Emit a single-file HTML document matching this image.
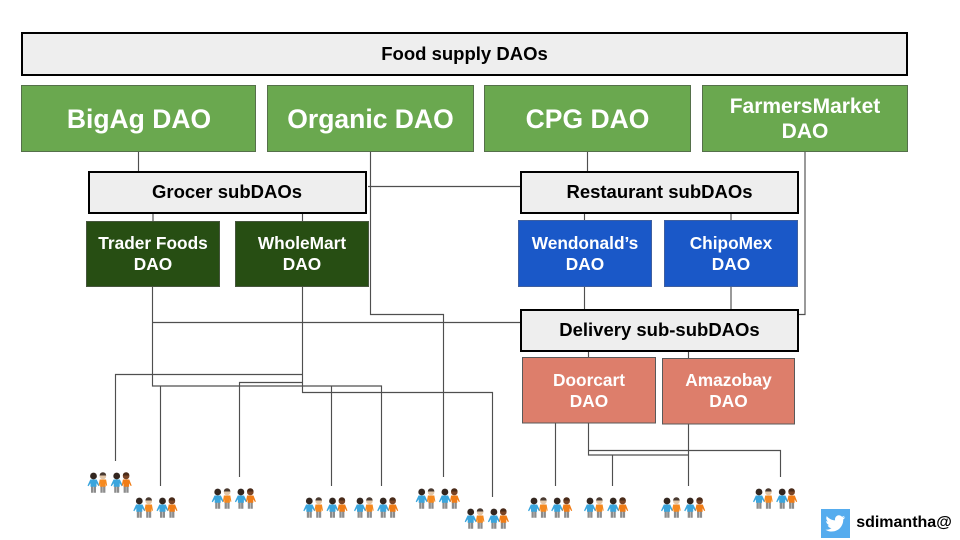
<!DOCTYPE html>
<html><head><meta charset="utf-8"><style>
html,body{margin:0;padding:0;background:#fff}
svg{display:block}
text{font-family:"Liberation Sans",sans-serif;font-weight:bold;text-anchor:middle}
.l{fill:none;stroke:#4f4f4f;stroke-width:1.15}
.g{fill:#6aa84f;stroke:#55704a;stroke-width:1}
.k{fill:#eeeeee;stroke:#000;stroke-width:2}
.d{fill:#274e13;stroke:#46553d;stroke-width:1}
.b{fill:#1a58c8;stroke:#3f5f9f;stroke-width:1}
.r{fill:#dd7e6b;stroke:#595959;stroke-width:1}
</style></head><body>
<svg width="960" height="540" viewBox="0 0 960 540" xmlns="http://www.w3.org/2000/svg">
<defs>
<g id="p">
<path d="M-2.500 9.500h2.300v7.300h-2.300zM.2 9.500h2.300v7.300h-2.300z" fill="#8c8c8c"/>
</g>
<g id="f">
<use href="#p"/>
<path d="M-3.200 3.500h6.400l2.800 6.100-1 .6-2-3v3.600h-6v-3.600l-2 3-1-.6z" fill="#3aa5dd"/>
<circle cx="0" cy="0" r="3.400" fill="#33261f"/>
</g>
<g id="o1">
<use href="#p"/>
<path d="M-3.200 3.500h6.400l1.100 6.100-1 .2-.5-2.600v3.600h-5.600v-3.600l-.5 2.600-1-.2z" fill="#f5891f"/>
<circle cx="0" cy="0" r="3.300" fill="#e2c6a8"/>
<path d="M-3.300-.5a3.300 3.300 0 0 1 6.600 0z" fill="#4a3a30"/>
</g>
<g id="o2">
<use href="#p"/>
<path d="M-3.200 3.500h6.400l2.400 6.100-1 .4-1.600-2.800v3.600h-5.600v-3.600l-.8 2.600-1-.2z" fill="#f07c16"/>
<circle cx="0" cy="0" r="3.300" fill="#7b4526"/>
<path d="M-3.300-.5a3.300 3.300 0 0 1 6.600 0z" fill="#4a2a18"/>
</g>
<g id="pp">
<use href="#f" x="0" y="0"/>
<use href="#o1" x="9.400" y="0"/>
<use href="#f" x="23.200" y="0"/>
<use href="#o2" x="32.600" y="0"/>
</g>
</defs>

<path class="l" d="M138.500 152V171M587.500 152V171M368 186.500H520M153 214V221M302.500 214V221M584.500 214V221M731 214V221M805 152V314.500H799M584.500 287V309M731 287V309M588.500 352V357M688.500 352V358"/>
<path class="l" d="M152.500 287V386H381.500V486M152.500 322.500H520M302.500 287V392.500H492.500V497M302.500 374.500H115.500V461M302.500 382.500H239.500V477M160.500 386V486M331.500 386V486M370.500 152V314.500H443.500V477"/>
<path class="l" d="M555.500 423V486M588.500 423V455H688.500M588.500 450.500H780.500V477M688.500 424V486M612.500 455V486"/>

<rect class="k" x="22" y="33" width="885" height="42"/>
<text x="464.500" y="60" font-size="18.500">Food supply DAOs</text>

<rect class="g" x="21.500" y="85.500" width="234" height="66"/>
<rect class="g" x="267.500" y="85.500" width="206" height="66"/>
<rect class="g" x="484.500" y="85.500" width="206" height="66"/>
<rect class="g" x="702.500" y="85.500" width="205" height="66"/>
<text x="139" y="128" font-size="26.500" fill="#fff">BigAg DAO</text>
<text x="370.500" y="128" font-size="26.500" fill="#fff">Organic DAO</text>
<text x="587.500" y="128" font-size="26.500" fill="#fff">CPG DAO</text>
<text x="805" y="113" font-size="21" fill="#fff">FarmersMarket</text>
<text x="805" y="138" font-size="21" fill="#fff">DAO</text>

<rect class="k" x="89" y="172" width="277" height="41"/>
<text x="227" y="198" font-size="18.500" textLength="150" lengthAdjust="spacingAndGlyphs">Grocer subDAOs</text>
<rect class="k" x="521" y="172" width="277" height="41"/>
<text x="659.500" y="198" font-size="18.500">Restaurant subDAOs</text>
<rect class="k" x="521" y="310" width="277" height="41"/>
<text x="659.500" y="336" font-size="18.500">Delivery sub-subDAOs</text>

<rect class="d" x="86.500" y="221.500" width="133" height="65"/>
<rect class="d" x="235.500" y="221.500" width="133" height="65"/>
<rect class="b" x="518.500" y="220.500" width="133" height="66"/>
<rect class="b" x="664.500" y="220.500" width="133" height="66"/>
<rect class="r" x="522.500" y="357.500" width="133" height="65.500"/>
<rect class="r" x="662.500" y="358.500" width="132" height="65.500"/>

<text x="153" y="249" font-size="17.300" fill="#fff">Trader Foods</text>
<text x="153" y="270" font-size="17.300" fill="#fff">DAO</text>
<text x="302" y="249" font-size="17.300" fill="#fff">WholeMart</text>
<text x="302" y="270" font-size="17.300" fill="#fff">DAO</text>
<text x="585" y="249" font-size="17.300" fill="#fff">Wendonald’s</text>
<text x="585" y="270" font-size="17.300" fill="#fff">DAO</text>
<text x="731" y="249" font-size="17.300" fill="#fff">ChipoMex</text>
<text x="731" y="270" font-size="17.300" fill="#fff">DAO</text>
<text x="589" y="386" font-size="17.300" fill="#fff">Doorcart</text>
<text x="589" y="407" font-size="17.300" fill="#fff">DAO</text>
<text x="728.500" y="386" font-size="17.300" fill="#fff">Amazobay</text>
<text x="728.500" y="407" font-size="17.300" fill="#fff">DAO</text>

<use href="#pp" x="93.500" y="476"/>
<use href="#pp" x="139.300" y="501"/>
<use href="#pp" x="217.700" y="492"/>
<use href="#pp" x="309.300" y="501"/>
<use href="#pp" x="360" y="501"/>
<use href="#pp" x="421.700" y="492"/>
<use href="#pp" x="470.700" y="512"/>
<use href="#pp" x="534" y="501"/>
<use href="#pp" x="590" y="501"/>
<use href="#pp" x="667" y="501"/>
<use href="#pp" x="759" y="492"/>

<rect x="821" y="509" width="29" height="29" fill="#55acee"/>
<path d="M845 517.200c-.8.4-1.500.6-2.300.7.800-.5 1.500-1.200 1.800-2.200-.8.400-1.600.8-2.500 1a4 4 0 0 0-6.900 3.700c-3.400-.2-6.300-1.800-8.300-4.300-1 1.900-.5 4.200 1.300 5.400-.7 0-1.300-.2-1.900-.5 0 2 1.400 3.700 3.300 4.100-.6.200-1.200.2-1.800.1.500 1.600 2 2.800 3.800 2.800-1.700 1.400-3.900 2-6 1.700 1.800 1.200 4 1.800 6.200 1.800 7.500 0 11.800-6.300 11.500-12 .8-.6 1.500-1.300 2-2.100z" fill="#fff"/>
<text x="904" y="527" font-size="16">sdimantha@</text>
</svg>
</body></html>
